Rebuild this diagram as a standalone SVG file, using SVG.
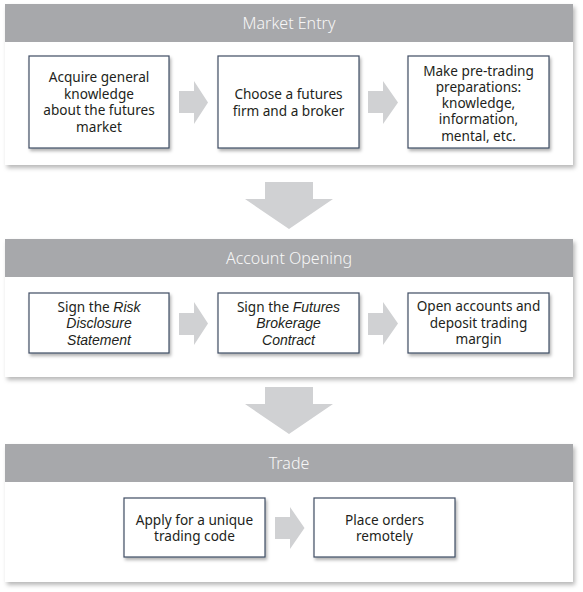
<svg xmlns="http://www.w3.org/2000/svg" width="583" height="592" viewBox="0 0 583 592">
<defs>
<filter id="psh" x="-5%" y="-10%" width="110%" height="125%">
<feDropShadow dx="2" dy="3" stdDeviation="2" flood-color="#000" flood-opacity="0.28"/>
</filter>
<filter id="bsh" x="-10%" y="-10%" width="125%" height="130%">
<feDropShadow dx="1.5" dy="2.5" stdDeviation="1.5" flood-color="#000" flood-opacity="0.3"/>
</filter>
</defs>
<style>
.body{fill:#ffffff;filter:url(#psh)}
.head{fill:#a7a8ab}
.htxt{font-family:"Noto Sans","Liberation Sans",sans-serif;font-size:16px;font-weight:300;fill:#f7f7f7;text-anchor:middle}
.box{fill:#ffffff;stroke:#3f4d63;stroke-width:1.2;filter:url(#bsh)}
.t{font-family:"Noto Sans","Liberation Sans",sans-serif;font-size:13.6px;fill:#231f20;text-anchor:middle}
.i{font-family:"Liberation Sans",Arial,sans-serif;font-style:italic;font-size:14px}
.arr{fill:#d0d1d3}
</style>

<g id="panel-market-entry">
<rect class="body" x="5" y="4" width="568" height="161"/>
<rect class="head" x="5" y="4" width="568" height="38"/>
<text class="htxt" x="289" y="28.5">Market Entry</text>
</g>
<g id="panel-account-opening">
<rect class="body" x="5" y="239" width="568" height="138"/>
<rect class="head" x="5" y="239" width="568" height="38"/>
<text class="htxt" x="289" y="263.5">Account Opening</text>
</g>
<g id="panel-trade">
<rect class="body" x="5" y="444" width="568" height="138"/>
<rect class="head" x="5" y="444" width="568" height="38"/>
<text class="htxt" x="289" y="468.5">Trade</text>
</g>

<g id="connectors">
<polygon class="arr" points="179,91 194,91 194,81 208,102.5 194,124 194,113 179,113"/>
<polygon class="arr" points="368,91 383,91 383,81 398,102.5 383,124 383,113 368,113"/>
<polygon class="arr" points="179,313 194,313 194,302 208,323.5 194,345 194,335 179,335"/>
<polygon class="arr" points="368,313 383,313 383,302 398,323.5 383,345 383,335 368,335"/>
<polygon class="arr" points="275,517 290,517 290,507 304.5,528 290,549 290,539 275,539"/>
<polygon class="arr" points="265,182 313,182 313,199 333,199 289,229 245,199 265,199"/>
<polygon class="arr" points="265,387 313,387 313,404 333,404 289,434 245,404 265,404"/>
</g>

<g id="n-acquire">
<rect class="box" x="29" y="56" width="140" height="92"/>
<text class="t" x="99" y="82">Acquire general<tspan x="99" dy="16.5">knowledge</tspan><tspan x="99" dy="16.5">about the futures</tspan><tspan x="99" dy="16.5">market</tspan></text>
</g>
<g id="n-choose">
<rect class="box" x="218" y="56" width="141" height="92"/>
<text class="t" x="288.5" y="99">Choose a futures<tspan x="288.5" dy="16.5">firm and a broker</tspan></text>
</g>
<g id="n-prepare">
<rect class="box" x="408" y="56" width="141" height="92"/>
<text class="t" x="478.5" y="75.5">Make pre-trading<tspan x="478.5" dy="16.3">preparations:</tspan><tspan x="478.5" dy="16.3">knowledge,</tspan><tspan x="478.5" dy="16.3">information,</tspan><tspan x="478.5" dy="16.3">mental, etc.</tspan></text>
</g>

<g id="n-risk">
<rect class="box" x="29" y="293" width="140" height="60"/>
<text class="t" x="99" y="311.5">Sign the <tspan class="i">Risk</tspan><tspan class="i" x="99" dy="16.7">Disclosure</tspan><tspan class="i" x="99" dy="16.7">Statement</tspan></text>
</g>
<g id="n-contract">
<rect class="box" x="218" y="293" width="141" height="60"/>
<text class="t" x="288.5" y="311.5">Sign the <tspan class="i">Futures</tspan><tspan class="i" x="288.5" dy="16.7">Brokerage</tspan><tspan class="i" x="288.5" dy="16.7">Contract</tspan></text>
</g>
<g id="n-open">
<rect class="box" x="408" y="293" width="141" height="60"/>
<text class="t" x="478.5" y="311">Open accounts and<tspan x="478.5" dy="16.7">deposit trading</tspan><tspan x="478.5" dy="16.7">margin</tspan></text>
</g>

<g id="n-apply">
<rect class="box" x="124" y="498" width="141" height="59"/>
<text class="t" x="194.5" y="524.5">Apply for a unique<tspan x="194.5" dy="16.7">trading code</tspan></text>
</g>
<g id="n-place">
<rect class="box" x="314" y="498" width="141" height="59"/>
<text class="t" x="384.5" y="524.5">Place orders<tspan x="384.5" dy="16.7">remotely</tspan></text>
</g>
</svg>
